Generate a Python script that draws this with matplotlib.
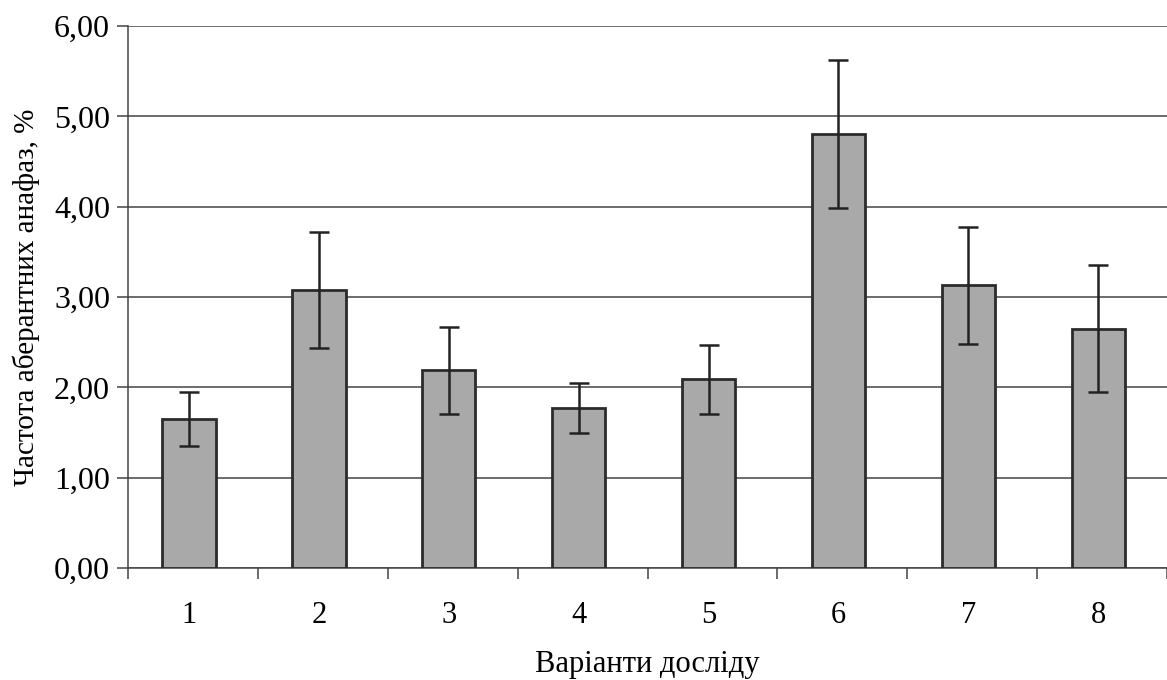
import matplotlib.pyplot as plt
import numpy as np

# values
variants = ["1", "2", "3", "4", "5", "6", "7", "8"]
freq = [1.65, 3.08, 2.19, 1.77, 2.09, 4.80, 3.13, 2.65]
err = [0.30, 0.64, 0.48, 0.28, 0.38, 0.82, 0.65, 0.70]
y_ticks = [0, 1, 2, 3, 4, 5, 6]

plt.rcParams['font.family'] = ['Liberation Serif', 'DejaVu Serif']

fig = plt.figure(figsize=(11.67, 6.80), dpi=100)
ax = fig.add_axes([128 / 1167, 112 / 680, 1 - 128 / 1167, (568 - 26) / 680])

x = np.arange(1, len(variants) + 1)
ax.bar(x - 0.03, freq, width=0.41, color="#a9a9a9", edgecolor="#2b2b2b", linewidth=2, zorder=3)
ax.errorbar(x - 0.03, freq, yerr=err, fmt="none", ecolor="#222222", elinewidth=1.8,
            capsize=7, capthick=1.8, zorder=4)

ax.set_ylim(0, 6)
ax.set_xlim(0.5, 0.5 + (1167 - 128) / 132.3)
ax.set_yticks(y_ticks)
ax.set_yticklabels([f"{v:.2f}".replace(".", ",") for v in y_ticks])
ax.yaxis.grid(True, color="#444444", linewidth=1.1, zorder=0)

ax.set_xticks(x - 0.03)
ax.set_xticklabels(variants)
ax.set_xticks(np.arange(0.5, 9, 1), minor=True)
ax.tick_params(axis="x", which="major", length=0, pad=24, labelsize=22)
ax.tick_params(axis="x", which="minor", length=8, width=1.1, color="#444444")
ax.tick_params(axis="y", length=8, width=1.1, color="#444444", labelsize=23, pad=5)

for side in ["top", "right"]:
    ax.spines[side].set_visible(False)
for side in ["left", "bottom"]:
    ax.spines[side].set_color("#444444")
    ax.spines[side].set_linewidth(1.1)

ax.set_xlabel("Варіанти досліду", fontsize=22, labelpad=14)
ax.set_ylabel("Частота аберантних анафаз, %", fontsize=21, labelpad=10)

plt.savefig("out.png", dpi=100)
